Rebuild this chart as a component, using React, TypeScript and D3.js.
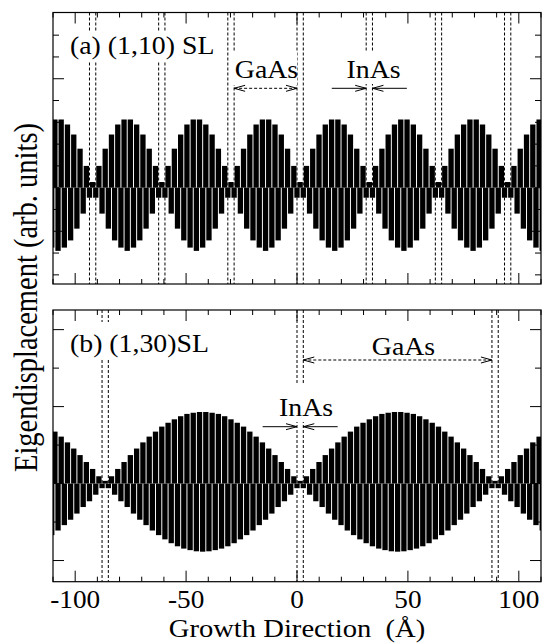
import React from 'react';
import * as d3 from 'd3';

// ---------- data ----------
// monolayer thickness (Å) and superlattice periods
const ML = 2.835;
const periodMLA = 11; // (1,10) SL
const periodMLB = 31; // (1,30) SL

// panel (a): displacement per monolayer within one period (j = 0 is the InAs layer)
const cationA = [0.26, 1.0, 1.79, 2.44, 2.9, 3.13, 3.13, 2.9, 2.44, 1.79, 1.0];
const anionA = [0.46, 0.46, 1.19, 1.88, 2.42, 2.75, 2.9, 2.75, 2.42, 1.88, 1.19];

// panel (b)
const cationB = [
  0.07, 0.19, 0.38, 0.56, 0.74, 0.91, 1.07, 1.22, 1.35, 1.48, 1.58, 1.67, 1.75, 1.81, 1.84, 1.86,
  1.86, 1.84, 1.81, 1.75, 1.67, 1.58, 1.48, 1.35, 1.22, 1.07, 0.91, 0.74, 0.56, 0.38, 0.19,
];
const anionB = [
  0.12, 0.12, 0.29, 0.46, 0.61, 0.78, 0.94, 1.08, 1.22, 1.34, 1.45, 1.55, 1.63, 1.69, 1.73, 1.76,
  1.77, 1.76, 1.73, 1.69, 1.63, 1.55, 1.45, 1.34, 1.22, 1.08, 0.94, 0.78, 0.61, 0.46, 0.29,
];

const xTickLabels = [-100, -50, 0, 50, 100];
const yTicksA = [-4, -3, -2, -1, 0, 1, 2, 3, 4, 5, 6, 7];
const yMajorA = [-2, 5];
const yTicksB = [-2, -1, 0, 1, 2, 3, 4];
const yMajorB = [-2, 0, 2, 4];

// ---------- layout ----------
const W = 542;
const H = 643;
const X0 = 53;
const X1 = 541;
const FONT = 'Liberation Serif';
const SX = 1.07; // horizontal stretch of the lettering

const xs = d3.scaleLinear().domain([-110, 110]).range([X0, X1]);

type Panel = {
  id: string;
  top: number;
  bottom: number;
  yDomain: [number, number];
  periodML: number;
  cation: number[];
  anion: number[];
  yTicks: number[];
  yMajor: number[];
};

const panels: Panel[] = [
  { id: 'a', top: 12.5, bottom: 284, yDomain: [-4.42, 8.04], periodML: periodMLA, cation: cationA, anion: anionA, yTicks: yTicksA, yMajor: yMajorA },
  { id: 'b', top: 310, bottom: 581.7, yDomain: [-2.55, 4.51], periodML: periodMLB, cation: cationB, anion: anionB, yTicks: yTicksB, yMajor: yMajorB },
];

function buildBars(p: Panel) {
  const P = p.periodML * ML;
  const bars: { pos: number; v: number }[] = [];
  const kMin = Math.floor(-120 / P) - 1;
  const kMax = Math.ceil(120 / P) + 1;
  for (let k = kMin; k <= kMax; k++) {
    for (let j = 0; j < p.periodML; j++) {
      const pa = k * P + j * ML;
      const pc = pa + ML / 2;
      if (pa > -115 && pa < 115) bars.push({ pos: pa, v: -p.anion[j] });
      if (pc > -115 && pc < 115) bars.push({ pos: pc, v: p.cation[j] });
    }
  }
  return bars;
}

function dashedPositions(p: Panel) {
  const P = p.periodML * ML;
  const out: number[] = [];
  for (let k = -5; k <= 5; k++) {
    [k * P, k * P + ML].forEach((v) => {
      if (v > -110 && v < 110) out.push(v);
    });
  }
  return out;
}

function Arrow({ x1, x2, y, dashed, heads }: { x1: number; x2: number; y: number; dashed: boolean; heads: ('start' | 'end')[] }) {
  const L = 11;
  const h = 3;
  return (
    <g stroke="#000" strokeWidth={1} fill="none">
      <line x1={x1} x2={x2} y1={y} y2={y} strokeDasharray={dashed ? '3,2' : undefined} />
      {heads.includes('start') && <path d={`M${x1 + L},${y - h} L${x1},${y} L${x1 + L},${y + h}`} />}
      {heads.includes('end') && <path d={`M${x2 - L},${y - h} L${x2},${y} L${x2 - L},${y + h}`} />}
    </g>
  );
}

function Label({ x, y, size, anchor, sx, children }: { x: number; y: number; size: number; anchor?: 'start' | 'middle'; sx?: number; children: React.ReactNode }) {
  return (
    <text
      transform={`translate(${x},${y}) scale(${sx ?? SX},1)`}
      textAnchor={anchor ?? 'start'}
      style={{ fontFamily: FONT, fontSize: size, whiteSpace: 'pre' }}
    >
      {children}
    </text>
  );
}

function PanelView({ p, showLabels }: { p: Panel; showLabels: boolean }) {
  const ys = d3.scaleLinear().domain(p.yDomain).range([p.bottom, p.top]);
  const bars = buildBars(p);
  const dashed = dashedPositions(p);
  const bw = 2.4; // Å
  const xTicks = xs.ticks(22);
  const clipId = `clip-${p.id}`;
  return (
    <g>
      <defs>
        <clipPath id={clipId}>
          <rect x={X0} y={p.top} width={X1 - X0} height={p.bottom - p.top} />
        </clipPath>
      </defs>
      <g clipPath={`url(#${clipId})`}>
        {bars.map((b, i) => {
          const xa = xs(b.pos - bw / 2);
          const xb = xs(b.pos + bw / 2);
          const y0 = ys(Math.max(0, b.v));
          const y1 = ys(Math.min(0, b.v));
          return <rect key={i} x={xa} width={xb - xa} y={y0} height={Math.max(0.5, y1 - y0)} fill="#000" />;
        })}
        {dashed.map((d, i) => (
          <line key={i} x1={xs(d)} x2={xs(d)} y1={p.top} y2={p.bottom} stroke="#000" strokeWidth={1} strokeDasharray="3,2" />
        ))}
      </g>
      <g stroke="#000" strokeWidth={1}>
        {xTicks.map((t) => {
          const len = t % 50 === 0 ? 11 : 5;
          return (
            <g key={t}>
              <line x1={xs(t)} x2={xs(t)} y1={p.bottom} y2={p.bottom - len} />
              <line x1={xs(t)} x2={xs(t)} y1={p.top} y2={p.top + len} />
            </g>
          );
        })}
        {p.yTicks.map((t) => {
          const len = p.yMajor.includes(t) ? 11 : 6;
          return (
            <g key={t}>
              <line x1={X0} x2={X0 + len} y1={ys(t)} y2={ys(t)} />
              <line x1={X1} x2={X1 - len} y1={ys(t)} y2={ys(t)} />
            </g>
          );
        })}
      </g>
      <rect x={X0} y={p.top} width={X1 - X0} height={p.bottom - p.top} fill="none" stroke="#000" strokeWidth={1.2} />
      {showLabels &&
        xTickLabels.map((t) => (
          <Label key={t} x={xs(t)} y={608} size={25.5} anchor="middle">
            {String(t)}
          </Label>
        ))}
    </g>
  );
}

export default function App() {
  const PA = periodMLA * ML;
  const PB = periodMLB * ML;
  return (
    <svg width={W} height={H} style={{ position: 'absolute', left: 0, top: 0, background: '#fff' }}>
      <rect x={0} y={0} width={W} height={H} fill="#fff" />
      <PanelView p={panels[0]} showLabels={false} />
      <PanelView p={panels[1]} showLabels={true} />

      <g fill="#fff">
        <rect x={68} y={32} width={152} height={30} />
        <rect x={232} y={52} width={65} height={33} />
        <rect x={343} y={52} width={61} height={32} />
        <rect x={68} y={322} width={147} height={36} />
        <rect x={277} y={385} width={58} height={37} />
      </g>

      <Label x={70} y={53.5} size={26}>(a) (1,10) SL</Label>
      <Label x={266.5} y={78} size={26} anchor="middle">GaAs</Label>
      <Arrow x1={xs(-PA + ML)} x2={xs(0)} y={88.3} dashed={true} heads={['start', 'end']} />
      <Label x={373.5} y={78} size={26} anchor="middle">InAs</Label>
      <Arrow x1={xs(PA - 15.5)} x2={xs(PA)} y={88.3} dashed={false} heads={['end']} />
      <Arrow x1={xs(PA + ML)} x2={xs(PA + ML + 15.5)} y={88.3} dashed={false} heads={['start']} />

      <Label x={70} y={351.5} size={26}>(b) (1,30)SL</Label>
      <Label x={403.5} y={355} size={26} anchor="middle">GaAs</Label>
      <Arrow x1={xs(ML)} x2={xs(PB)} y={360} dashed={true} heads={['start', 'end']} />
      <Label x={306} y={415.5} size={26} anchor="middle">InAs</Label>
      <Arrow x1={xs(-15.5)} x2={xs(0)} y={426.7} dashed={false} heads={['end']} />
      <Arrow x1={xs(ML)} x2={xs(ML + 15.5)} y={426.7} dashed={false} heads={['start']} />

      <Label x={297} y={637} size={26} sx={1.1} anchor="middle">
        {'Growth Direction  (Å)'}
      </Label>
      <text
        transform={`translate(37,297.5) rotate(-90) scale(1,1.15)`}
        textAnchor="middle"
        style={{ fontFamily: FONT, fontSize: 28.5 }}
      >
        Eigendisplacement (arb. units)
      </text>
    </svg>
  );
}
